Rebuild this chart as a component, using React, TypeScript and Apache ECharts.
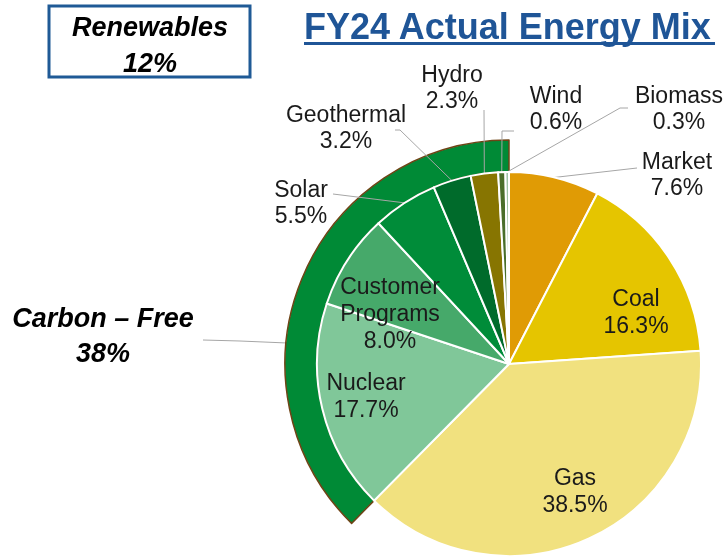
import React, { useEffect, useRef } from 'react';
import * as echarts from 'echarts';

// ---- data ----
const categories = ['Market', 'Coal', 'Gas', 'Nuclear', 'Customer Programs', 'Solar', 'Geothermal', 'Hydro', 'Wind', 'Biomass'];
const shares = [7.6, 16.3, 38.5, 17.7, 8.0, 5.5, 3.2, 2.3, 0.6, 0.3];
const carbonFreeSources = ['Nuclear', 'Customer Programs', 'Solar', 'Geothermal', 'Hydro', 'Wind', 'Biomass'];
const renewableSources = ['Solar', 'Geothermal', 'Hydro', 'Wind', 'Biomass'];
const insideLabelled = ['Coal', 'Gas', 'Nuclear', 'Customer Programs'];

// ---- styles ----
const sliceColors = ['#E09B05', '#E5C500', '#F1E17F', '#80C799', '#46A96A', '#008C39', '#006B2B', '#877501', '#4A6E2A', '#9DC3A6'];
const FONT = '"Liberation Sans", Arial, Helvetica, sans-serif';
const BLUE = '#1F5597';
const CX = 509;
const CY = 364;
const R = 192;
const RING_OUT = 224;

// label placement (annotation positions)
const labelPlacement: Record<string, { x: number; y: number; elbow?: number[]; end?: number[] }> = {
  Market: { x: 677, y: 174, end: [637, 168] },
  Coal: { x: 636, y: 311 },
  Gas: { x: 575, y: 490 },
  Nuclear: { x: 366, y: 395 },
  'Customer Programs': { x: 390, y: 313 },
  Solar: { x: 301, y: 202, end: [333, 194] },
  Geothermal: { x: 346, y: 127, elbow: [400, 130], end: [395, 130] },
  Hydro: { x: 452, y: 87, end: [484, 110] },
  Wind: { x: 556, y: 108, elbow: [502, 131], end: [514, 131] },
  Biomass: { x: 679, y: 108, elbow: [620, 108], end: [628, 108] },
};

const total = shares.reduce((a, b) => a + b, 0);
const shareOf = (names: string[]) =>
  categories.reduce((s, c, i) => (names.includes(c) ? s + shares[i] : s), 0);
const carbonFree = shareOf(carbonFreeSources);
const renewables = shareOf(renewableSources);

function midPoint(index: number, radius: number) {
  let cum = 0;
  for (let i = 0; i < index; i++) cum += shares[i];
  const a = ((cum + shares[index] / 2) / total) * Math.PI * 2;
  return [CX + radius * Math.sin(a), CY - radius * Math.cos(a)];
}

export default function App() {
  const ref = useRef<HTMLDivElement>(null);
  useEffect(() => {
    if (!ref.current) return;
    const chart = echarts.init(ref.current, undefined, { renderer: 'svg' });
    const pieData = categories.map((name, i) => {
      const inside = insideLabelled.includes(name);
      return {
        name,
        value: shares[i],
        itemStyle: { color: sliceColors[i] },
        label: { position: inside ? 'inside' : 'outside', lineHeight: inside ? 27 : 26 },
        labelLine: { show: !inside },
      };
    });
    const option: any = {
      animation: false,
      title: {
        text: 'FY24 Actual Energy Mix',
        left: 304,
        top: 8,
        padding: 0,
        textStyle: { fontFamily: FONT, fontSize: 36, fontWeight: 'bold', color: BLUE, lineHeight: 36 },
      },
      graphic: [
        { type: 'rect', shape: { x: 304, y: 42, width: 411, height: 3 }, style: { fill: BLUE } },
        { type: 'rect', shape: { x: 49, y: 6, width: 201, height: 71 }, style: { fill: '#fff', stroke: '#1F5A96', lineWidth: 3 } },
        {
          type: 'text',
          x: 150,
          y: 45,
          style: {
            text: `Renewables\n${Math.round(renewables)}%`,
            fontFamily: FONT,
            fontSize: 27,
            fontWeight: 'bold',
            fontStyle: 'italic',
            lineHeight: 36,
            fill: '#000',
            align: 'center',
            verticalAlign: 'middle',
          },
        },
      ],
      series: [
        {
          type: 'pie',
          z: 1,
          center: [CX, CY],
          radius: [R, RING_OUT],
          startAngle: 90,
          clockwise: true,
          silent: true,
          avoidLabelOverlap: false,
          emphasis: { disabled: true },
          data: [
            {
              name: 'Other',
              value: total - carbonFree,
              itemStyle: { color: 'rgba(0,0,0,0)', borderWidth: 0 },
              label: { show: false },
              labelLine: { show: false },
            },
            {
              name: 'Carbon – Free',
              value: carbonFree,
              itemStyle: { color: '#008A36', borderColor: '#6E4416', borderWidth: 1.5 },
            },
          ],
          label: {
            show: true,
            position: 'outside',
            formatter: () => `Carbon – Free\n${Math.round(carbonFree)}%`,
            fontFamily: FONT,
            fontSize: 27,
            fontWeight: 'bold',
            fontStyle: 'italic',
            lineHeight: 35,
            color: '#000',
          },
          labelLine: { show: true, lineStyle: { color: '#A6A6A6', width: 1 } },
          labelLayout: (params: any) => {
            if (params.dataIndex !== 1) return {};
            const ly = 343;
            const px = CX - Math.sqrt(RING_OUT * RING_OUT - (CY - ly) * (CY - ly));
            return {
              x: 103,
              y: 335,
              align: 'center',
              verticalAlign: 'middle',
              labelLinePoints: [[px + 1, ly], [240, 341], [203, 340]],
            };
          },
        },
        {
          type: 'pie',
          z: 2,
          center: [CX, CY],
          radius: [0, R],
          startAngle: 90,
          clockwise: true,
          silent: true,
          avoidLabelOverlap: false,
          emphasis: { disabled: true },
          itemStyle: { borderColor: '#fff', borderWidth: 2 },
          data: pieData,
          label: {
            show: true,
            formatter: (p: any) => `${p.name.replace(' ', '\n')}\n${Number(p.value).toFixed(1)}%`,
            fontFamily: FONT,
            fontSize: 23,
            color: '#1A1A1A',
          },
          labelLine: { show: true, lineStyle: { color: '#A6A6A6', width: 1 } },
          labelLayout: (params: any) => {
            const name = categories[params.dataIndex];
            const p = labelPlacement[name];
            if (!p) return {};
            const out: any = { x: p.x, y: p.y, align: 'center', verticalAlign: 'middle' };
            if (p.end) {
              const p0 = midPoint(params.dataIndex, R);
              out.labelLinePoints = [p0, p.elbow || p.end, p.end];
            }
            return out;
          },
        },
      ],
    };
    chart.setOption(option);
    return () => chart.dispose();
  }, []);
  return <div ref={ref} style={{ position: 'fixed', left: 0, top: 0, width: 727, height: 556 }} />;
}
